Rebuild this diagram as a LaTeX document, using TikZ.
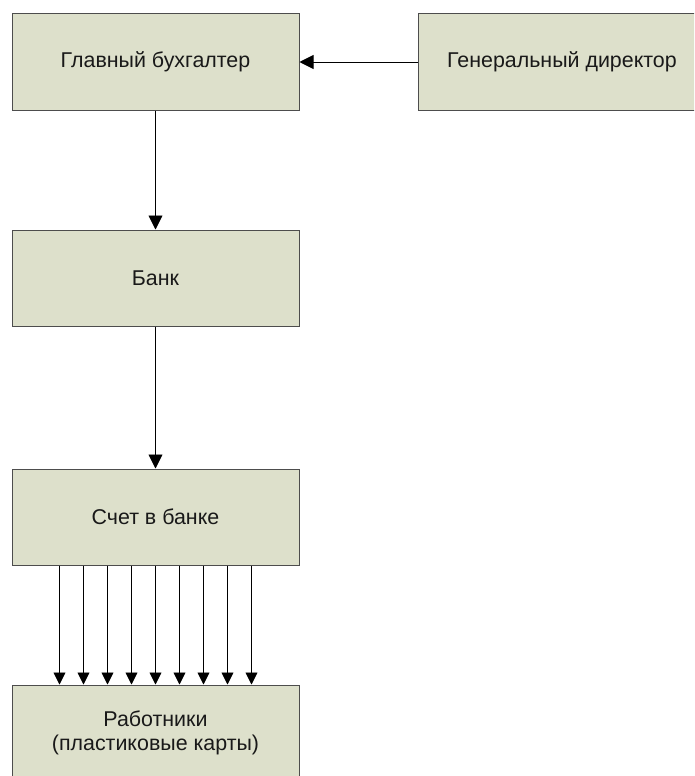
\documentclass[tikz,border=0pt]{standalone}
\usepackage{fontspec}
\setmainfont{Liberation Sans}
\usetikzlibrary{arrows.meta}
\definecolor{boxfill}{RGB}{221,224,203}
\definecolor{boxline}{RGB}{77,77,77}
\begin{document}
\begin{tikzpicture}[x=1pt,y=-1pt,
  box/.style={draw=boxline, line width=1pt, fill=boxfill, minimum width=287pt, minimum height=96pt,
    inner sep=0pt, align=center, font=\fontsize{21.4pt}{24pt}\selectfont, text=black!90},
  arr/.style={draw=black, line width=0.9pt, -{Triangle[length=14pt,width=14pt]}},
  sarr/.style={draw=black, line width=0.9pt, -{Triangle[length=12pt,width=12pt]}}]
\clip (0,0) rectangle (694,776);
\fill[white] (0,0) rectangle (694,776);
\node[box] (gb) at (155.5,62) {Главный бухгалтер};
\node[box, minimum width=288pt] (gd) at (562,62) {Генеральный директор};
\node[box] (bank) at (155.5,278) {Банк};
\node[box] (schet) at (155.5,517) {Счет в банке};
\node[box] (rab) at (155.5,733) {Работники\\(пластиковые карты)};
\draw[arr] (gd.west) -- (gb.east);
\draw[arr] (gb.south) -- (bank.north);
\draw[arr] (bank.south) -- (schet.north);
\foreach \k in {-4,...,4}{
  \draw[sarr] ([xshift=\k*24pt]schet.south) -- ([xshift=\k*24pt]rab.north);
}
\end{tikzpicture}
\end{document}
